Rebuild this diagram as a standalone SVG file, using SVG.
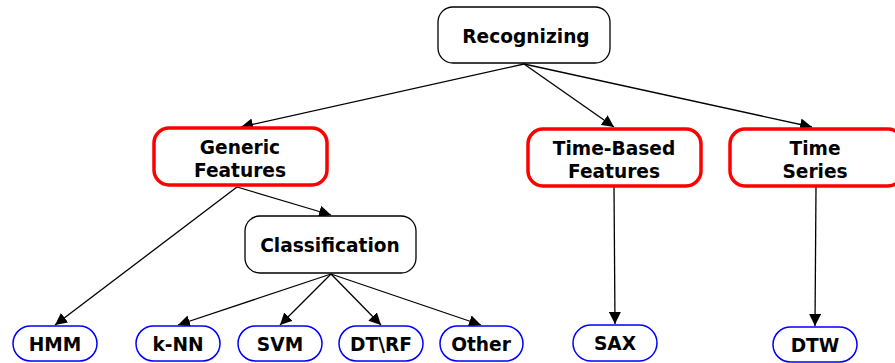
<svg xmlns="http://www.w3.org/2000/svg" width="895" height="363" viewBox="0 0 895 363">
  <style>
    .lbl { font-family: "DejaVu Sans", Verdana, sans-serif; font-weight: bold; font-size: 18.6px; fill: #000; text-anchor: middle; dominant-baseline: central; }
    .root { fill: #fff; stroke: #000; stroke-width: 1.3; }
    .cat { fill: #fff; stroke: #f00; stroke-width: 3.5; }
    .leaf { fill: #fff; stroke: #00f; stroke-width: 1.5; }
    .edge { stroke: #000; stroke-width: 1.3; fill: none; marker-end: url(#arrow); }
  </style>
  <defs>
    <marker id="arrow" viewBox="0 0 12 12" refX="12" refY="6" markerWidth="12" markerHeight="12" markerUnits="userSpaceOnUse" orient="auto">
      <path d="M0,0 L12,6 L0,12 Z" fill="#000"/>
    </marker>
  </defs>

  <g id="connectors">
    <line class="edge" x1="524" y1="64" x2="241" y2="127"/>
    <line class="edge" x1="524" y1="64" x2="614" y2="127"/>
    <line class="edge" x1="524" y1="64" x2="812" y2="127"/>
    <line class="edge" x1="237" y1="187" x2="55" y2="325"/>
    <line class="edge" x1="237" y1="187" x2="331" y2="215"/>
    <line class="edge" x1="331" y1="274" x2="178" y2="325"/>
    <line class="edge" x1="331" y1="274" x2="280" y2="325"/>
    <line class="edge" x1="331" y1="274" x2="381" y2="325"/>
    <line class="edge" x1="331" y1="274" x2="481" y2="325"/>
    <line class="edge" x1="614" y1="187" x2="615" y2="324"/>
    <line class="edge" x1="816" y1="187" x2="815" y2="326"/>
  </g>

  <g id="recognizing">
    <rect class="root" x="438" y="7" width="172" height="56" rx="15"/>
    <text class="lbl" x="526" y="36">Recognizing</text>
  </g>
  <g id="generic-features">
    <rect class="cat" x="154" y="128" width="173" height="57" rx="15"/>
    <text class="lbl" x="240" y="147">Generic</text>
    <text class="lbl" x="240" y="170">Features</text>
  </g>
  <g id="time-based-features">
    <rect class="cat" x="528" y="129" width="173" height="57" rx="15"/>
    <text class="lbl" x="614" y="148">Time-Based</text>
    <text class="lbl" x="614" y="171">Features</text>
  </g>
  <g id="time-series">
    <rect class="cat" x="730" y="129" width="173" height="57" rx="15"/>
    <text class="lbl" x="815" y="148">Time</text>
    <text class="lbl" x="815" y="171">Series</text>
  </g>
  <g id="classification">
    <rect class="root" x="245" y="216" width="171" height="57" rx="15"/>
    <text class="lbl" x="330" y="245">Classification</text>
  </g>
  <g id="hmm">
    <rect class="leaf" x="13" y="326" width="84" height="35" rx="17.5"/>
    <text class="lbl" x="55" y="344">HMM</text>
  </g>
  <g id="knn">
    <rect class="leaf" x="136" y="326" width="84" height="35" rx="17.5"/>
    <text class="lbl" x="178" y="344">k-NN</text>
  </g>
  <g id="svm">
    <rect class="leaf" x="238" y="326" width="84" height="35" rx="17.5"/>
    <text class="lbl" x="280" y="344">SVM</text>
  </g>
  <g id="dtrf">
    <rect class="leaf" x="339" y="326" width="84" height="35" rx="17.5"/>
    <text class="lbl" x="381" y="344">DT\RF</text>
  </g>
  <g id="other">
    <rect class="leaf" x="440" y="326" width="83" height="35" rx="17.5"/>
    <text class="lbl" x="481" y="344">Other</text>
  </g>
  <g id="sax">
    <rect class="leaf" x="573" y="325" width="84" height="36" rx="18"/>
    <text class="lbl" x="615" y="343">SAX</text>
  </g>
  <g id="dtw">
    <rect class="leaf" x="773" y="327" width="84" height="35" rx="17.5"/>
    <text class="lbl" x="815" y="345">DTW</text>
  </g>
</svg>
